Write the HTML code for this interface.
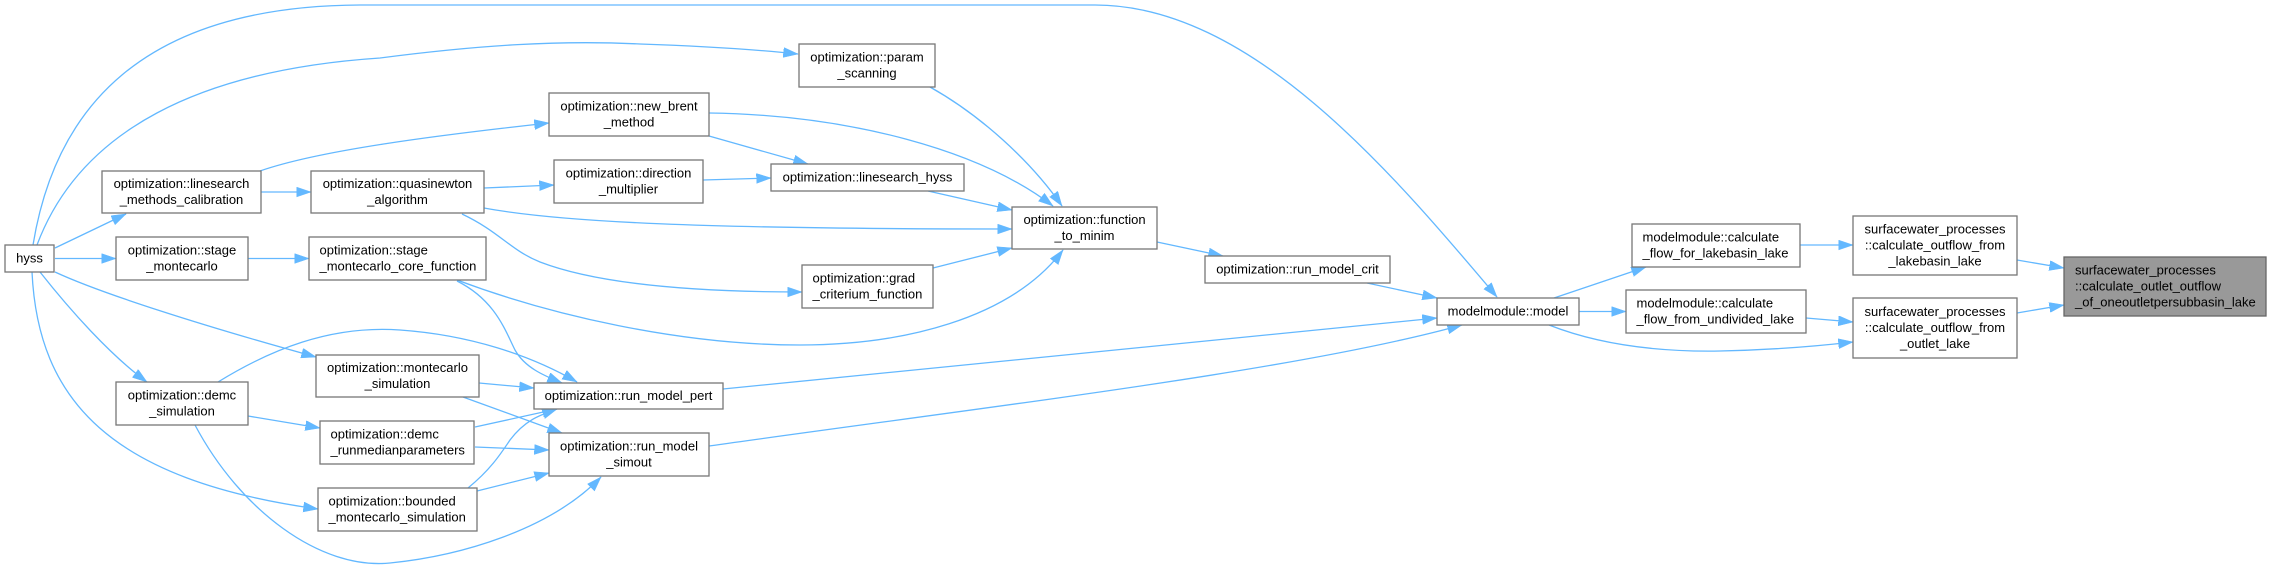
<!DOCTYPE html>
<html>
<head>
<meta charset="utf-8">
<style>
html,body{margin:0;padding:0;background:#fff;}
svg{display:block;}
text{font-family:"Liberation Sans",Arial,sans-serif;font-size:13px;fill:#000;}
.n{fill:#fff;stroke:#777;stroke-width:1.3;}
.t{fill:#999;stroke:#666;stroke-width:1.3;}
.e{fill:none;stroke:#63b8ff;stroke-width:1.3;marker-end:url(#ah);}
</style>
</head>
<body>
<svg width="2270" height="569" viewBox="0 0 2270 569" xmlns="http://www.w3.org/2000/svg">
<defs>
<marker id="ah" markerUnits="userSpaceOnUse" markerWidth="16" markerHeight="12" refX="14.7" refY="5" orient="auto">
<path d="M0,0 L14.7,5 L0,10 z" fill="#63b8ff" stroke="#63b8ff" stroke-width="0.5"/>
</marker>
</defs>

<!-- edges -->
<path class="e" d="M33,245 C55,110 140,6 360,5 L1095,5 C1250,5 1390,170 1497,297"/>
<path class="e" d="M37,245 C80,130 200,70 380,58 C480,45 560,40 640,44 C700,46 760,50 798,54"/>
<path class="e" d="M55,248 L126,214"/>
<path class="e" d="M55,258.5 L116,258.5"/>
<path class="e" d="M55,272 C100,293 200,325 316,357"/>
<path class="e" d="M40,272 C70,310 110,355 147,382"/>
<path class="e" d="M32,272 C38,400 110,480 318,509"/>
<path class="e" d="M195,425 C240,510 320,570 390,563 C460,556 550,530 601,477"/>
<path class="e" d="M218,382 C270,350 330,325 400,330 C470,335 530,355 577,382"/>
<path class="e" d="M248,416 L320,428"/>
<path class="e" d="M260,171 C320,150 440,135 549,123"/>
<path class="e" d="M261,192 L311,192"/>
<path class="e" d="M248,258.5 L309,258.5"/>
<path class="e" d="M484,188 L554,185"/>
<path class="e" d="M484,208 C560,222 700,229 1012,229"/>
<path class="e" d="M462,214 C500,232 510,250 540,262 C600,285 700,292 802,292"/>
<path class="e" d="M709,113 C850,115 980,150 1053,206"/>
<path class="e" d="M709,136 L808,164"/>
<path class="e" d="M703,180 L771,178"/>
<path class="e" d="M928,191 L1012,210"/>
<path class="e" d="M930,87 C980,115 1030,160 1062,206"/>
<path class="e" d="M933,268 L1012,248"/>
<path class="e" d="M457,280 C550,315 680,345 800,345 C900,345 1010,320 1063,250"/>
<path class="e" d="M457,281 C495,300 505,330 515,350 C525,368 545,376 562,383"/>
<path class="e" d="M479,383 L534,388"/>
<path class="e" d="M463,397 L562,433"/>
<path class="e" d="M475,427 L557,409"/>
<path class="e" d="M475,447 L549,450"/>
<path class="e" d="M468,488 C490,470 500,455 510,440 C525,420 540,415 557,409"/>
<path class="e" d="M477,491 L549,473"/>
<path class="e" d="M723,389 L1437,318"/>
<path class="e" d="M709,446 C1000,405 1300,370 1462,325"/>
<path class="e" d="M1157,242 L1223,256"/>
<path class="e" d="M1367,283 L1437,298"/>
<path class="e" d="M1554,298 L1646,267"/>
<path class="e" d="M1579,311.5 L1626,311.5"/>
<path class="e" d="M1549,325 C1600,345 1660,352 1720,351 C1770,350 1810,347 1853,342"/>
<path class="e" d="M1800,245 L1853,245"/>
<path class="e" d="M1806,318 L1853,322"/>
<path class="e" d="M2017,260 L2064,268"/>
<path class="e" d="M2017,313 L2064,305"/>

<!-- nodes -->
<rect class="n" x="5" y="245" width="49" height="27"/>
<text x="29.5" y="262.3" text-anchor="middle">hyss</text>

<rect class="n" x="102" y="171" width="159" height="42"/>
<text x="181.5" y="187.8" text-anchor="middle">optimization::linesearch</text>
<text x="181.5" y="203.8" text-anchor="middle">_methods_calibration</text>

<rect class="n" x="116" y="237" width="132" height="43"/>
<text x="182" y="254.3" text-anchor="middle">optimization::stage</text>
<text x="182" y="270.3" text-anchor="middle">_montecarlo</text>

<rect class="n" x="116" y="382" width="132" height="43"/>
<text x="182" y="399.3" text-anchor="middle">optimization::demc</text>
<text x="182" y="415.3" text-anchor="middle">_simulation</text>

<rect class="n" x="311" y="171" width="173" height="42"/>
<text x="397.5" y="187.8" text-anchor="middle">optimization::quasinewton</text>
<text x="397.5" y="203.8" text-anchor="middle">_algorithm</text>

<rect class="n" x="309" y="237" width="177" height="43"/>
<text x="319.5" y="254.3">optimization::stage</text>
<text x="319.5" y="270.3">_montecarlo_core_function</text>

<rect class="n" x="316" y="355" width="163" height="42"/>
<text x="397.5" y="371.8" text-anchor="middle">optimization::montecarlo</text>
<text x="397.5" y="387.8" text-anchor="middle">_simulation</text>

<rect class="n" x="320" y="421" width="154" height="43"/>
<text x="330.5" y="438.3">optimization::demc</text>
<text x="330.5" y="454.3">_runmedianparameters</text>

<rect class="n" x="318" y="488" width="159" height="43"/>
<text x="328.5" y="505.3">optimization::bounded</text>
<text x="328.5" y="521.3">_montecarlo_simulation</text>

<rect class="n" x="549" y="93" width="160" height="43"/>
<text x="629" y="110.3" text-anchor="middle">optimization::new_brent</text>
<text x="629" y="126.3" text-anchor="middle">_method</text>

<rect class="n" x="554" y="160" width="149" height="43"/>
<text x="628.5" y="177.3" text-anchor="middle">optimization::direction</text>
<text x="628.5" y="193.3" text-anchor="middle">_multiplier</text>

<rect class="n" x="534" y="383" width="189" height="26"/>
<text x="628.5" y="399.8" text-anchor="middle">optimization::run_model_pert</text>

<rect class="n" x="549" y="433" width="160" height="43"/>
<text x="629" y="450.3" text-anchor="middle">optimization::run_model</text>
<text x="629" y="466.3" text-anchor="middle">_simout</text>

<rect class="n" x="799" y="44" width="136" height="43"/>
<text x="867" y="61.3" text-anchor="middle">optimization::param</text>
<text x="867" y="77.3" text-anchor="middle">_scanning</text>

<rect class="n" x="771" y="164" width="193" height="27"/>
<text x="867.5" y="181.3" text-anchor="middle">optimization::linesearch_hyss</text>

<rect class="n" x="802" y="265" width="131" height="43"/>
<text x="812.5" y="282.3">optimization::grad</text>
<text x="812.5" y="298.3">_criterium_function</text>

<rect class="n" x="1012" y="207" width="145" height="42"/>
<text x="1084.5" y="223.8" text-anchor="middle">optimization::function</text>
<text x="1084.5" y="239.8" text-anchor="middle">_to_minim</text>

<rect class="n" x="1205" y="256" width="185" height="27"/>
<text x="1297.5" y="273.3" text-anchor="middle">optimization::run_model_crit</text>

<rect class="n" x="1437" y="298" width="142" height="27"/>
<text x="1508" y="315.3" text-anchor="middle">modelmodule::model</text>

<rect class="n" x="1632" y="224" width="168" height="43"/>
<text x="1642.5" y="241.3">modelmodule::calculate</text>
<text x="1642.5" y="257.3">_flow_for_lakebasin_lake</text>

<rect class="n" x="1626" y="290" width="180" height="43"/>
<text x="1636.5" y="307.3">modelmodule::calculate</text>
<text x="1636.5" y="323.3">_flow_from_undivided_lake</text>

<rect class="n" x="1853" y="216" width="164" height="59"/>
<text x="1935" y="233.3" text-anchor="middle">surfacewater_processes</text>
<text x="1935" y="249.3" text-anchor="middle">::calculate_outflow_from</text>
<text x="1935" y="265.3" text-anchor="middle">_lakebasin_lake</text>

<rect class="n" x="1853" y="298" width="164" height="60"/>
<text x="1935" y="315.8" text-anchor="middle">surfacewater_processes</text>
<text x="1935" y="331.8" text-anchor="middle">::calculate_outflow_from</text>
<text x="1935" y="347.8" text-anchor="middle">_outlet_lake</text>

<rect class="t" x="2064" y="257" width="202" height="59"/>
<text x="2075" y="274.3">surfacewater_processes</text>
<text x="2075" y="290.3">::calculate_outlet_outflow</text>
<text x="2075" y="306.3">_of_oneoutletpersubbasin_lake</text>
</svg>
</body>
</html>
